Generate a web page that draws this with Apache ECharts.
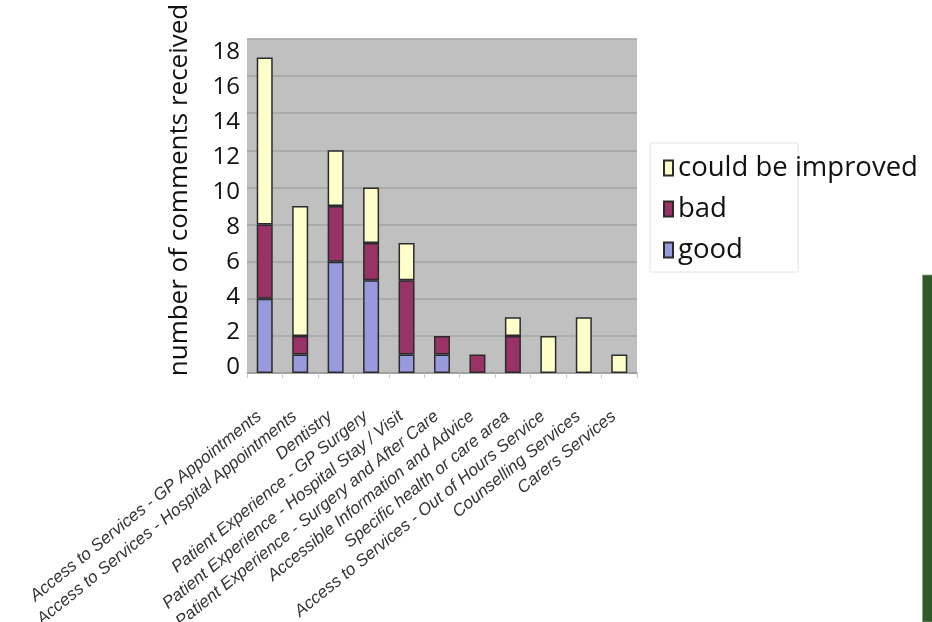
<!DOCTYPE html>
<html>
<head>
<meta charset="utf-8">
<script src="https://cdn.jsdelivr.net/npm/echarts@6/dist/echarts.min.js"></script>
<style>
  html, body { margin: 0; padding: 0; background: #ffffff; }
  #chart { width: 932px; height: 622px; }
</style>
</head>
<body>
<div id="chart"></div>
<script>
// Comment topics and counts per rating
const categories = [
  'Access to Services - GP Appointments',
  'Access to Services - Hospital Appointments',
  'Dentistry',
  'Patient Experience - GP Surgery',
  'Patient Experience - Hospital Stay / Visit',
  'Patient Experience - Surgery and After Care',
  'Accessible Information and Advice',
  'Specific health or care area',
  'Access to Services - Out of Hours Service',
  'Counselling Services',
  'Carers Services'
];
const good = [4, 1, 6, 5, 1, 1, 0, 0, 0, 0, 0];
const bad = [4, 1, 3, 2, 4, 1, 1, 2, 0, 0, 0];
const couldBeImproved = [9, 7, 3, 3, 2, 0, 0, 1, 2, 3, 1];
const yTicks = { min: 0, max: 18, step: 2 };

const chart = echarts.init(document.getElementById('chart'));

// empty segments are skipped so they leave no outline on the axis
const segments = (values) => values.map(v => (v === 0 ? '-' : v));

const barStyle = (color) => ({
  color: color,
  borderColor: '#2b2b2b',
  borderWidth: 1.5
});

const barSeries = (name, values, color) => ({
  name: name,
  type: 'bar',
  stack: 'total',
  barWidth: 16,
  data: segments(values),
  itemStyle: barStyle(color)
});

chart.setOption({
  animation: false,
  backgroundColor: '#ffffff',
  grid: [
    {
      left: 247, right: 295, top: 39, bottom: 249,
      outerBoundsMode: 'none',
      show: true,
      backgroundColor: '#c0c0c0',
      borderWidth: 0
    },
    // label track for the value scale
    { left: 247, right: 295, top: 52, bottom: 255, outerBoundsMode: 'none', show: false }
  ],
  legend: {
    data: ['could be improved', 'bad', 'good'],
    orient: 'vertical',
    left: 658,
    top: 149,
    itemWidth: 9,
    itemHeight: 15,
    itemGap: 13,
    icon: 'rect',
    z: 5,
    textStyle: { fontFamily: 'Open Sans', fontSize: 27.5, color: '#111' }
  },
  xAxis: [
    {
      type: 'category',
      data: categories,
      axisLine: { lineStyle: { color: '#9a9a9a', width: 1.5 } },
      axisTick: { show: true, length: 5, lineStyle: { color: '#c8c8c8' } },
      axisLabel: {
        interval: 0,
        rotate: 39,
        margin: 37,
        padding: [0, 7, 0, 0],
        fontFamily: 'Liberation Sans',
        fontStyle: 'italic',
        fontSize: 17,
        color: '#333333'
      }
    },
    { type: 'category', gridIndex: 1, data: categories, show: false }
  ],
  yAxis: [
    {
      type: 'value',
      min: yTicks.min,
      max: yTicks.max,
      interval: yTicks.step,
      axisLine: { show: false },
      axisTick: { show: false },
      splitLine: { lineStyle: { color: '#a4a4a4', width: 1.5 } },
      axisLabel: { show: false }
    },
    {
      type: 'value',
      gridIndex: 1,
      min: yTicks.min,
      max: yTicks.max,
      interval: yTicks.step,
      axisLine: { show: false },
      axisTick: { show: false },
      splitLine: { show: false },
      axisLabel: { fontFamily: 'Open Sans', fontSize: 24, color: '#111', margin: 7 }
    }
  ],
  series: [
    barSeries('good', good, '#9999dd'),
    barSeries('bad', bad, '#993366'),
    barSeries('could be improved', couldBeImproved, '#ffffcc')
  ],
  graphic: [
    {
      type: 'rect', z: 1,
      shape: { x: 650, y: 143, width: 148, height: 129 },
      style: { fill: '#ffffff', stroke: '#e4e4e4', lineWidth: 1 }
    },
    {
      type: 'text', z: 3,
      x: 180, y: 190, rotation: Math.PI / 2,
      style: {
        text: 'number of comments received',
        fontFamily: 'Open Sans', fontSize: 26, fill: '#111',
        align: 'center', verticalAlign: 'middle'
      }
    },
    {
      type: 'rect', z: 3,
      shape: { x: 922.5, y: 275, width: 10, height: 347 },
      style: { fill: '#2d5a27', stroke: '#8aa585', lineWidth: 0.8 }
    }
  ]
});
</script>
</body>
</html>
